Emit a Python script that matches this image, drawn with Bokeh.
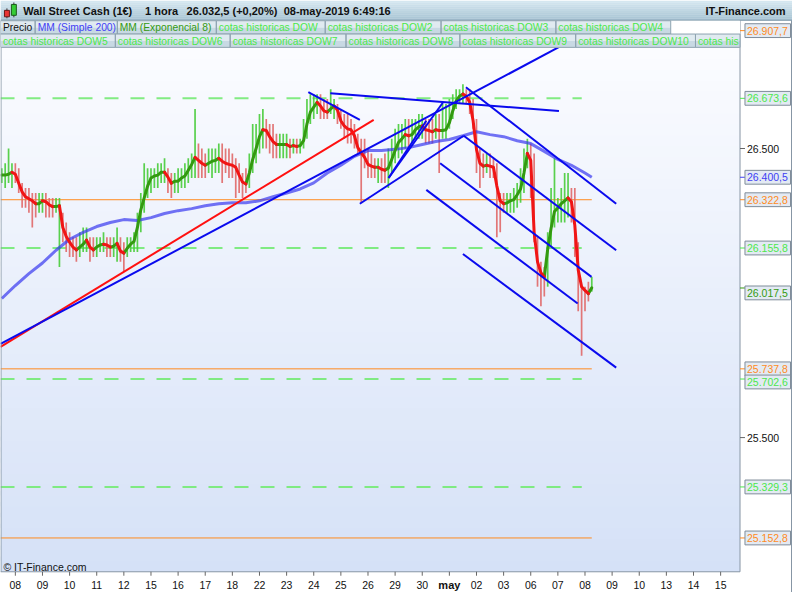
import numpy as np
from bokeh.plotting import figure
from bokeh.models import Range1d
from bokeh.core.properties import value
from bokeh.embed import file_html
from bokeh.resources import INLINE

FONT = "Liberation Sans"

# ---------------- data ----------------
day_labels = ["08", "09", "10", "11", "12", "15", "16", "17", "18", "22", "23", "24", "25", "26",
              "29", "30", "may", "02", "03", "06", "07", "08", "09", "10", "13", "14", "15"]

# 3-hour samples of the EMA(8) line, starting half a day before the first tick
ema8 = [26408, 26408, 26411, 26418, 26411, 26380, 26350, 26333, 26326, 26319,
        26309, 26309, 26319, 26316, 26305, 26299, 26299, 26302, 26227, 26196,
        26176, 26159, 26149, 26159, 26169, 26183, 26159, 26149, 26159, 26166,
        26169, 26166, 26159, 26162, 26172, 26145, 26138, 26155, 26169, 26179,
        26227, 26288, 26329, 26370, 26398, 26405, 26408, 26418, 26418, 26401,
        26380, 26387, 26387, 26398, 26405, 26425, 26445, 26469, 26459, 26449,
        26442, 26449, 26456, 26459, 26466, 26456, 26449, 26445, 26442, 26435,
        26408, 26384, 26377, 26415, 26462, 26500, 26541, 26565, 26562, 26541,
        26524, 26514, 26514, 26514, 26514, 26507, 26510, 26507, 26510, 26527,
        26585, 26626, 26643, 26660, 26647, 26630, 26626, 26637, 26647, 26633,
        26596, 26578, 26568, 26565, 26544, 26503, 26486, 26469, 26445, 26439,
        26435, 26435, 26428, 26425, 26432, 26462, 26493, 26521, 26534, 26548,
        26544, 26548, 26565, 26575, 26578, 26565, 26562, 26558, 26565, 26562,
        26562, 26565, 26589, 26630, 26664, 26681, 26688, 26681, 26660, 26596,
        26497, 26449, 26439, 26442, 26439, 26435, 26370, 26319, 26309, 26312,
        26319, 26323, 26340, 26360, 26415, 26483, 26459, 26210, 26108, 26070,
        26056, 26152, 26224, 26282, 26295, 26309, 26319, 26329, 26316, 26234,
        26080, 26022, 26009, 25998, 26018]

bar_high = [26432, 26449, 26500, 26449, 26449, 26432, 26381, 26363, 26363, 26346,
            26346, 26346, 26346, 26346, 26329, 26329, 26329, 26329, 26278, 26244,
            26210, 26193, 26193, 26210, 26227, 26227, 26193, 26193, 26193, 26193,
            26210, 26193, 26193, 26193, 26227, 26193, 26176, 26193, 26193, 26210,
            26278, 26346, 26449, 26432, 26432, 26432, 26449, 26449, 26466, 26432,
            26415, 26415, 26432, 26432, 26449, 26466, 26483, 26637, 26517, 26500,
            26483, 26500, 26500, 26500, 26517, 26517, 26500, 26500, 26483, 26466,
            26449, 26415, 26432, 26483, 26585, 26585, 26619, 26637, 26602, 26585,
            26585, 26551, 26551, 26551, 26551, 26534, 26534, 26534, 26534, 26602,
            26671, 26688, 26688, 26688, 26688, 26671, 26671, 26705, 26671, 26654,
            26637, 26619, 26619, 26602, 26585, 26551, 26534, 26534, 26500, 26483,
            26466, 26466, 26466, 26483, 26500, 26534, 26568, 26585, 26585, 26602,
            26602, 26602, 26602, 26619, 26619, 26602, 26602, 26602, 26619, 26619,
            26654, 26654, 26671, 26688, 26705, 26705, 26722, 26705, 26705, 26671,
            26602, 26500, 26483, 26483, 26483, 26466, 26449, 26346, 26346, 26346,
            26346, 26363, 26381, 26432, 26500, 26534, 26517, 26483, 26193, 26108,
            26090, 26210, 26363, 26466, 26329, 26363, 26415, 26415, 26363, 26363,
            26176, 26022, 26022, 26039, 26056]

bar_low = [26381, 26363, 26381, 26363, 26381, 26346, 26295, 26295, 26278, 26227,
           26261, 26278, 26278, 26261, 26261, 26261, 26278, 26090, 26176, 26142,
           26125, 26125, 26108, 26125, 26142, 26142, 26108, 26125, 26125, 26142,
           26142, 26125, 26125, 26125, 26108, 26108, 26073, 26125, 26142, 26142,
           26142, 26210, 26278, 26329, 26346, 26363, 26363, 26381, 26381, 26346,
           26329, 26346, 26346, 26363, 26363, 26381, 26398, 26398, 26398, 26398,
           26398, 26415, 26398, 26415, 26415, 26381, 26415, 26398, 26398, 26329,
           26346, 26329, 26346, 26363, 26415, 26449, 26483, 26500, 26500, 26483,
           26466, 26466, 26466, 26466, 26466, 26466, 26483, 26483, 26483, 26500,
           26534, 26585, 26602, 26619, 26602, 26602, 26602, 26619, 26602, 26585,
           26568, 26534, 26517, 26517, 26500, 26483, 26312, 26432, 26398, 26398,
           26398, 26381, 26381, 26381, 26363, 26415, 26449, 26466, 26483, 26500,
           26500, 26517, 26534, 26534, 26534, 26517, 26517, 26517, 26534, 26415,
           26534, 26534, 26568, 26602, 26637, 26654, 26654, 26654, 26619, 26568,
           26415, 26363, 26398, 26415, 26398, 26398, 26193, 26210, 26278, 26278,
           26278, 26278, 26295, 26312, 26346, 26432, 26329, 26176, 26022, 25954,
           25988, 26022, 26159, 26227, 26244, 26244, 26244, 26261, 26244, 26125,
           25937, 25783, 25937, 25971, 26005]

# SMA(200), sampled every half trading day, plus last value
sma200 = [25981, 26026, 26067, 26104, 26148, 26186, 26210, 26230, 26244, 26254,
          26251, 26261, 26275, 26285, 26292, 26302, 26309, 26312, 26312, 26319,
          26333, 26346, 26360, 26381, 26415, 26442, 26473, 26493, 26493, 26497,
          26503, 26514, 26524, 26531, 26544, 26558, 26548, 26541, 26527, 26517,
          26490, 26462, 26442, 26415, 26400.5]

# drawn trend lines: (start day, start price, end day, end price)
blue_t0 = [-0.547, 12.70, 13.76, 13.76, 11.61, 10.80, 16.61, 16.53, 15.66, 15.15, 16.50]
blue_p0 = [25824, 26309, 26398, 26398, 26691, 26695, 26712, 26544, 26449, 26357, 26135]
blue_t1 = [20.07, 16.53, 15.77, 15.15, 20.04, 12.70, 22.15, 22.15, 21.24, 20.73, 22.15]
blue_p1 = [26852, 26544, 26660, 26596, 26630, 26599, 26309, 26148, 26056, 25964, 25742]
red_t0, red_p0, red_t1, red_p1 = [-0.547], [25814], [13.21], [26599]

cotas = [26673.6, 26155.8, 25702.6, 25329.3]          # "cotas historicas DOW"
orange_levels = [26322.8, 25737.8, 25152.8]
orange_top = 26907.7
sma_last = 26400.5
ema_last = 26017.5
axis_ticks = [25500, 26500]

# ---------------- layout (reference pixel grid, 800 x 600) ----------------
W, H = 792, 592
PLOT_L, PLOT_R, PLOT_T, PLOT_B = 0, 747, 48, 579
DAY0_PX, DAY_PX = 15.0, 27.4              # x pixel of first day tick, pixels per day
P_REF, P_REF_Y, PX_PER_PT = 26500.0, 150.0, 0.293

def day_at(px):
    return (px - DAY0_PX) / DAY_PX

def price_at(py):
    return P_REF - (py - P_REF_Y) / PX_PER_PT

X0, X1 = day_at(PLOT_L), day_at(PLOT_R)
Y0, Y1 = price_at(PLOT_B), price_at(PLOT_T)
PPX = 1 / PX_PER_PT                      # price units per pixel

ORANGE = "#ff8a1e"
LGREEN = "#4be84b"
DGREEN = "#339a10"
BLUE_TXT = "#4040f4"
GRAYLINE = "#8796a5"


def mix(c1, c2, f):
    a = [int(c1[i:i + 2], 16) for i in (1, 3, 5)]
    b = [int(c2[i:i + 2], 16) for i in (1, 3, 5)]
    return "#%02x%02x%02x" % tuple(int(round(a[j] + (b[j] - a[j]) * f)) for j in range(3))


def fmt(v):
    return f"{v:,.1f}".replace(",", "X").replace(".", ",").replace("X", ".")


t = -0.5 + 0.125 * np.arange(len(ema8))
sma_t = list(-0.5 + 0.5 * np.arange(len(sma200) - 1)) + [t[-1]]
ema = np.array(ema8, dtype=float)

p = figure(width=W, height=H, x_range=Range1d(0, 800), y_range=Range1d(600, 0),
           output_backend="svg", toolbar_location=None, min_border=0,
           x_axis_location=None, y_axis_location=None)
p.grid.visible = False
p.outline_line_color = None
p.background_fill_color = "white"
p.border_fill_color = "white"
p.extra_x_ranges = {"day": Range1d(day_at(0), day_at(800))}
p.extra_y_ranges = {"price": Range1d(price_at(600), price_at(0))}
D = dict(x_range_name="day", y_range_name="price")

# ---- plot background gradient ----
nb = 48
yb = np.linspace(Y0, Y1, nb + 1)
step = (Y1 - Y0) / nb
p.quad(left=X0, right=X1, bottom=yb[:-1], top=yb[1:] + step * 0.4,
       fill_color=[mix("#d5e1f7", "#fbfcff", (i + 0.5) / nb) for i in range(nb)],
       line_color=None, **D)

# ---- horizontal levels ----
cota_end = t[-1] - 0.37
p.segment(x0=[X0] * len(cotas), y0=cotas, x1=[cota_end] * len(cotas), y1=cotas,
          line_color="#74ea74", line_width=2, line_dash="14 12", line_alpha=0.9, **D)
p.segment(x0=[X0] * len(orange_levels), y0=orange_levels, x1=[t[-1]] * len(orange_levels),
          y1=orange_levels, line_color=ORANGE, line_width=1, **D)

# ---- candle wicks ----
up = np.concatenate([[True], np.diff(ema) >= 0])
ccol = ["#48cc3a" if u else "#e06868" for u in up]
p.segment(x0=t, y0=bar_low, x1=t, y1=bar_high, line_color=ccol, line_width=1.7,
          line_alpha=0.9, **D)

# ---- SMA 200 ----
p.line(sma_t, sma200, line_color="#3838f0", line_width=3, line_alpha=0.7, **D)

# ---- EMA 8 coloured by direction ----
seg_up = np.diff(ema) >= 0
gx, gy, rx, ry = [], [], [], []
start = 0
for i in range(1, len(seg_up) + 1):
    if i == len(seg_up) or seg_up[i] != seg_up[start]:
        xs = list(t[start:i + 1])
        ys = list(ema[start:i + 1])
        if seg_up[start]:
            gx.append(xs); gy.append(ys)
        else:
            rx.append(xs); ry.append(ys)
        start = i
p.multi_line(gx, gy, line_color=DGREEN, line_width=3, line_join="round", line_cap="round", **D)
p.multi_line(rx, ry, line_color="#f01515", line_width=3, line_join="round", line_cap="round", **D)

# ---- trend lines ----
p.segment(x0=red_t0, y0=red_p0, x1=red_t1, y1=red_p1, line_color="#ff1010", line_width=2, **D)
p.segment(x0=blue_t0, y0=blue_p0, x1=blue_t1, y1=blue_p1, line_color="#0a0aee", line_width=2, **D)

# ---- frame lines ----
p.segment(x0=[PLOT_L + 0.5, PLOT_R, PLOT_L, 799], y0=[PLOT_T, 20, PLOT_B, 20],
          x1=[PLOT_L + 0.5, PLOT_R, PLOT_R, 799], y1=[PLOT_B, PLOT_B, PLOT_B, 600],
          line_color=GRAYLINE, line_width=1)

# ---- bottom (time) axis ----
idx = list(range(len(day_labels)))
p.segment(x0=idx, y0=[PLOT_B] * len(idx), x1=idx, y1=[PLOT_B + 4] * len(idx),
          line_color="#666666", line_width=1, x_range_name="day")
norm = [i for i in idx if day_labels[i] != "may"]
p.text(x=norm, y=[592] * len(norm), text=[day_labels[i] for i in norm], x_range_name="day",
       text_font=value(FONT), text_font_size="10.5px", text_align="center",
       text_baseline="middle", text_color="#111111")
p.text(x=[day_labels.index("may")], y=[592], text=["may"], x_range_name="day",
       text_font=value(FONT), text_font_size="11px", text_font_style="bold",
       text_align="center", text_baseline="middle", text_color="#111111")
p.text(x=[3], y=[574], text=["© IT-Finance.com"], text_font=value(FONT),
       text_font_size="10.5px", text_baseline="middle", text_color="#111111")

# ---- header: title bar ----
nb = 10
ybh = np.linspace(0, 20, nb + 1)
p.quad(left=0, right=800, top=ybh[:-1], bottom=ybh[1:] + 0.3,
       fill_color=[mix("#d8e9f2", "#a5c2d2", (i + 0.5) / nb) for i in range(nb)], line_color=None)
p.segment(x0=[0], y0=[20], x1=[800], y1=[20], line_color="#7e98a8", line_width=1)
p.segment(x0=[6.5, 13.5], y0=[8, 2], x1=[6.5, 13.5], y1=[18, 17], line_color="#333333", line_width=1)
p.quad(left=[4, 11], right=[9, 16], top=[10, 4], bottom=[16.5, 15],
       fill_color=["#e83535", "#35cc35"], line_color=["#6a1a1a", "#1a5a1a"], line_width=1)
p.text(x=[23, 146, 188, 286], y=[10.5] * 4,
       text=["Wall Street Cash (1€)", "1 hora", "26.032,5 (+0,20%)", "08-may-2019 6:49:16"],
       text_font=value(FONT), text_font_style="bold", text_font_size="11px",
       text_baseline="middle", text_color="#111111")
p.text(x=[793], y=[10.5], text=["IT-Finance.com"], text_font=value(FONT), text_font_style="bold",
       text_font_size="11px", text_baseline="middle", text_align="right", text_color="#111111")

# ---- header: legend rows ----
row1 = [(0, 35, "Precio", "#111111"), (35, 118, "MM (Simple 200)", BLUE_TXT),
        (118, 218, "MM (Exponencial 8)", DGREEN), (218, 328, "cotas historicas DOW", LGREEN),
        (328, 445, "cotas historicas DOW2", LGREEN), (445, 561, "cotas historicas DOW3", LGREEN),
        (561, 677, "cotas historicas DOW4", LGREEN)]
row2 = [(0, 116, "cotas historicas DOW5", LGREEN), (116, 232, "cotas historicas DOW6", LGREEN),
        (232, 349, "cotas historicas DOW7", LGREEN), (349, 464, "cotas historicas DOW8", LGREEN),
        (464, 581, "cotas historicas DOW9", LGREEN), (581, 702, "cotas historicas DOW10", LGREEN),
        (702, 747, "cotas his", LGREEN)]
p.quad(left=[0], right=[PLOT_R], top=[20.5], bottom=[PLOT_T], fill_color="white", line_color=None)
for row, (top, bot) in ((row1, (20.5, 34)), (row2, (34, 47.5))):
    lefts = [r[0] for r in row]
    rights = [r[1] for r in row]
    mid = (top + bot) / 2
    p.quad(left=lefts, right=rights, top=[top] * len(row), bottom=[mid] * len(row),
           fill_color="#e0eaf0", line_color=None)
    p.quad(left=lefts, right=rights, top=[mid] * len(row), bottom=[bot] * len(row),
           fill_color="#c8d9e3", line_color=None)
    p.quad(left=lefts, right=rights, top=[top] * len(row), bottom=[bot] * len(row),
           fill_alpha=0, line_color="#8ea3b0", line_width=1)
    p.text(x=[l + 2.5 for l in lefts], y=[mid + 0.5] * len(row), text=[r[2] for r in row],
           text_color=[r[3] for r in row], text_font=value(FONT), text_font_size="10.3px",
           text_baseline="middle")

# ---- right (price) axis ----
p.segment(x0=[PLOT_R] * 2, y0=axis_ticks, x1=[PLOT_R + 5] * 2, y1=axis_ticks,
          line_color="#666666", line_width=1, y_range_name="price")
p.text(x=[PLOT_R + 7] * 2, y=axis_ticks, text=[fmt(v)[:-2] for v in axis_ticks],
       y_range_name="price", text_font=value(FONT), text_font_size="10.5px",
       text_baseline="middle", text_color="#111111")

marks = [(orange_top, ORANGE, 0), (cotas[0], LGREEN, 0), (sma_last, BLUE_TXT, 0),
         (orange_levels[0], ORANGE, 0), (cotas[1], LGREEN, 0), (ema_last, DGREEN, 5),
         (orange_levels[1], ORANGE, 0), (cotas[2], LGREEN, 3), (cotas[3], LGREEN, 0),
         (orange_levels[2], ORANGE, 0)]
mv = [m[0] for m in marks]
mc = [m[1] for m in marks]
my = [m[0] - m[2] * PPX for m in marks]
p.segment(x0=[PLOT_R] * len(marks), y0=mv, x1=[PLOT_R + 5] * len(marks), y1=mv,
          line_color=mc, line_width=1, y_range_name="price")
p.quad(left=[PLOT_R + 5] * len(marks), right=[798] * len(marks),
       top=[v + 7 * PPX for v in my], bottom=[v - 7 * PPX for v in my],
       fill_color="#e3eaf3", line_color="#7f8c99", line_width=1, y_range_name="price")
p.text(x=[PLOT_R + 7] * len(marks), y=my, text=[fmt(v) for v in mv], text_color=mc,
       y_range_name="price", text_font=value(FONT), text_font_size="10.5px",
       text_baseline="middle")

open("out.html", "w").write(file_html(p, INLINE))
